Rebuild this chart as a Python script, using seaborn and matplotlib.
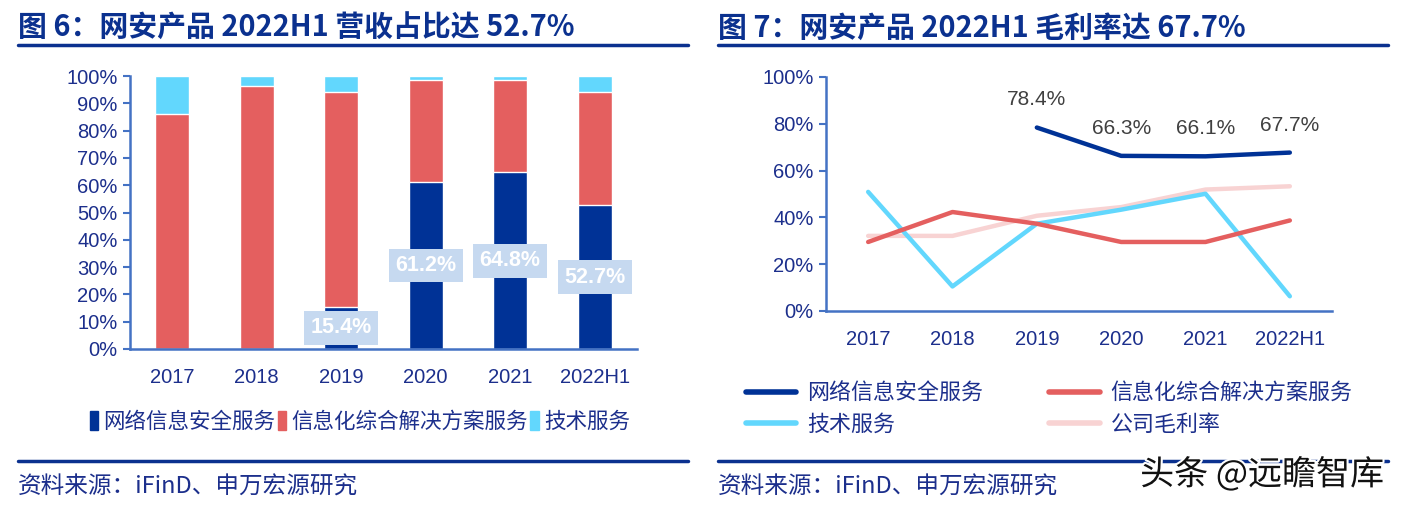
import numpy as np
import pandas as pd
import matplotlib
matplotlib.use("Agg")
import matplotlib.pyplot as plt
import matplotlib.patheffects as pe
from matplotlib.patches import Patch
from matplotlib.lines import Line2D
import seaborn as sns

# data
years = ["2017", "2018", "2019", "2020", "2021", "2022H1"]
# revenue share (%)
share_security = [0.0, 0.0, 15.4, 61.2, 64.8, 52.7]
share_solution = [86.0, 96.3, 78.7, 37.3, 33.7, 41.4]
share_tech = [14.0, 3.7, 5.9, 1.5, 1.5, 5.9]
# gross margin (%)
gm_security = [np.nan, np.nan, 78.4, 66.3, 66.1, 67.7]
gm_solution = [29.5, 42.3, 37.3, 29.5, 29.5, 38.7]
gm_tech = [50.9, 10.5, 37.3, 43.3, 50.1, 6.3]
gm_company = [32.1, 32.1, 40.7, 44.4, 51.9, 53.3]

series_names = ["网络信息安全服务", "信息化综合解决方案服务", "技术服务", "公司毛利率"]

NAVY = "#003296"
RED = "#e45f5f"
LBLUE = "#62d7fd"
PINK = "#f8d3d3"
AXIS = "#4472c4"
TXT = "#1c2f8c"
TITLE = "#0b318f"

sns.set_style("white")
plt.rcParams["font.family"] = ["Liberation Sans", "Noto Sans CJK SC"]

fig = plt.figure(figsize=(14.03, 5.07), dpi=100)
W, H = 1403, 507

def box(x0, x1, ytop, ybot):
    return [x0 / W, 1 - ybot / H, (x1 - x0) / W, (ybot - ytop) / H]

ax1 = fig.add_axes(box(130, 637, 76, 349))
ax2 = fig.add_axes(box(826, 1332, 77, 311))

# ---- left: stacked bars ----
df = pd.DataFrame({"year": years,
                   "sec": share_security,
                   "sol": share_solution,
                   "tech": share_tech})
df["top"] = df["sec"] + df["sol"] + df["tech"]
df["mid"] = df["sec"] + df["sol"]
sns.barplot(data=df, x="year", y="top", color=LBLUE, width=0.4, ax=ax1, saturation=1)
sns.barplot(data=df, x="year", y="mid", color=RED, width=0.4, ax=ax1, saturation=1)
sns.barplot(data=df, x="year", y="sec", color=NAVY, width=0.4, ax=ax1, saturation=1)

for i, v in enumerate(share_security):
    if v > 0:
        ax1.text(i, v / 2, f"{v:.1f}%", ha="center", va="center", fontsize=15.5,
                 fontweight="bold", color="white",
                 bbox=dict(boxstyle="square,pad=0.3", fc="#c6d9f0", ec="none"))

ax1.set_ylim(0, 100)
ax1.set_xlim(-0.5, 5.5)
ax1.set_yticks(range(0, 101, 10))
ax1.set_yticklabels([f"{t}%" for t in range(0, 101, 10)])
ax1.set_xlabel("")
ax1.set_ylabel("")

# ---- right: lines ----
gm = pd.DataFrame({"year": years * 4,
                   "val": gm_security + gm_solution + gm_tech + gm_company,
                   "s": sum([[n] * len(years) for n in series_names], [])})
gm["x"] = list(range(len(years))) * 4
sns.lineplot(data=gm, x="x", y="val", hue="s", hue_order=series_names[::-1],
             palette={series_names[0]: NAVY, series_names[1]: RED,
                      series_names[2]: LBLUE, series_names[3]: PINK},
             linewidth=3.2, legend=False, ax=ax2)
for i, v in enumerate(gm_security):
    if not np.isnan(v):
        ax2.annotate(f"{v:.1f}%", (i, v), xytext=(0, 13), textcoords="offset points",
                     ha="center", va="bottom", fontsize=15, color="#404040")
ax2.set_ylim(0, 100)
ax2.set_xlim(-0.5, 5.5)
ax2.set_yticks(range(0, 101, 20))
ax2.set_yticklabels([f"{t}%" for t in range(0, 101, 20)])
ax2.set_xlabel("")
ax2.set_ylabel("")

for ax in (ax1, ax2):
    for s in ("top", "right"):
        ax.spines[s].set_visible(False)
    for s in ("left", "bottom"):
        ax.spines[s].set_color(AXIS)
        ax.spines[s].set_linewidth(1.8)
    ax.set_xticks(range(len(years)))
    ax.set_xticklabels(years)
    ax.set_xticks(np.arange(-0.5, 6, 1), minor=True)
    ax.tick_params(axis="x", which="major", length=0, labelsize=14.5, colors=TXT, pad=14)
    ax.tick_params(axis="x", which="minor", length=6, width=1.5, color=AXIS, direction="out")
    ax.tick_params(axis="y", length=5, width=1.5, color=AXIS, labelsize=14.5, labelcolor=TXT,
                   direction="out", left=True, pad=4)
    ax.grid(False)

# legends
h1 = [Patch(color=c) for c in (NAVY, RED, LBLUE)]
fig.legend(h1, series_names[:3], loc="center", bbox_to_anchor=(360 / W, 1 - 422 / H),
           ncol=3, frameon=False, fontsize=15.5, labelcolor=TXT, handlelength=0.4,
           handleheight=1.0, handletextpad=0.25, columnspacing=0.1)
h2 = [Line2D([], [], color=c, lw=4) for c in (NAVY, RED, LBLUE, PINK)]
fig.legend([h2[0], h2[2], h2[1], h2[3]],
           [series_names[0], series_names[2], series_names[1], series_names[3]],
           loc="center left", bbox_to_anchor=(726 / W, 1 - 410 / H), ncol=2,
           frameon=False, fontsize=15.8, labelcolor=TXT, handlelength=2.3,
           handletextpad=0.5, columnspacing=3.0, labelspacing=0.45)

# titles, rules, sources
for x0, title in ((18, "图 6：网安产品 2022H1 营收占比达 52.7%"),
                  (718, "图 7：网安产品 2022H1 毛利率达 67.7%")):
    fig.text(x0 / W, 1 - 28 / H, title, fontsize=20.8, fontweight="bold", color=TITLE,
             va="center", ha="left", family=["Noto Sans CJK SC", "DejaVu Sans"])
    fig.add_artist(Line2D([x0 / W, (x0 + 670) / W], [1 - 45 / H] * 2, color=TITLE, lw=2.5))
    fig.add_artist(Line2D([x0 / W, (x0 + 670) / W], [1 - 461 / H] * 2, color=TITLE, lw=2.5))
    fig.text(x0 / W, 1 - 487 / H, "资料来源：iFinD、申万宏源研究", fontsize=17, color=TXT,
             va="center", ha="left", family=["Noto Sans CJK SC", "DejaVu Sans"])

fig.text(1384 / W, 1 - 475 / H, "头条 @远瞻智库", fontsize=24.5, color="#111111",
         ha="right", va="center", family=["Noto Sans CJK SC", "DejaVu Sans"],
         path_effects=[pe.withStroke(linewidth=3, foreground="white")])

fig.savefig("out.png", dpi=100)
